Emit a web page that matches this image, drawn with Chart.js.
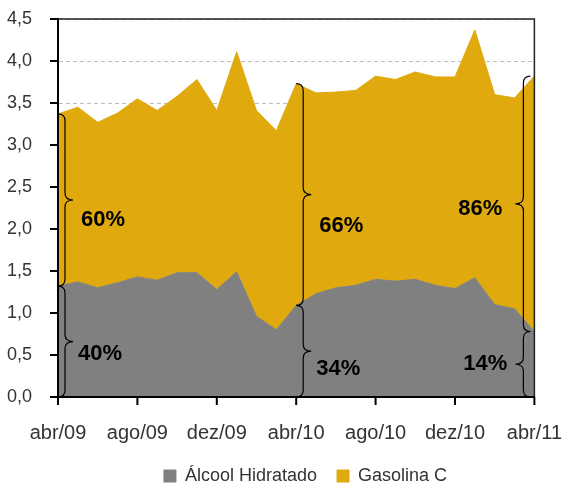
<!DOCTYPE html>
<html>
<head>
<meta charset="utf-8">
<script src="https://cdn.jsdelivr.net/npm/chart.js@4/dist/chart.umd.min.js"></script>
<style>
  html, body { margin: 0; padding: 0; background: #fff; }
  #wrap { width: 562px; height: 486px; }
</style>
</head>
<body>
<div id="wrap"><canvas id="myChart" width="562" height="486"></canvas></div>
<script>
// meses, abr/09 a abr/11
const months = ['abr/09','mai/09','jun/09','jul/09','ago/09','set/09','out/09','nov/09','dez/09','jan/10','fev/10','mar/10',
                'abr/10','mai/10','jun/10','jul/10','ago/10','set/10','out/10','nov/10','dez/10','jan/11','fev/11','mar/11','abr/11'];
const xTickLabels = ['abr/09','ago/09','dez/09','abr/10','ago/10','dez/10','abr/11'];

const alcool = [1.32,1.37,1.30,1.36,1.43,1.39,1.48,1.48,1.28,1.49,0.96,0.80,
                1.09,1.23,1.30,1.33,1.40,1.38,1.40,1.33,1.29,1.42,1.10,1.05,0.78];
const gasolina = [2.05,2.08,1.97,2.02,2.12,2.02,2.10,2.30,2.13,2.62,2.45,2.37,
                  2.64,2.39,2.33,2.32,2.42,2.40,2.47,2.48,2.52,2.95,2.50,2.51,3.04];

// chaves com participacao
const braceMonths = ['abr/09','abr/10','abr/11'];
const shareAlcool = ['40%','34%','14%'];
const shareGasolina = ['60%','66%','86%'];

const FONT = "'Liberation Sans', Arial, sans-serif";

function drawBrace(ctx, xEnd, yTop, yBot, side) {
    // side = 1 -> ponta para a direita, -1 -> para a esquerda
    let xLine = xEnd + side * 7;
    let tipX = xEnd + side * 15;
    let yMid = (yTop + yBot) / 2;
    let r = Math.min(7, (yBot - yTop) / 4);
    ctx.beginPath();
    ctx.moveTo(xEnd, yTop);
    ctx.quadraticCurveTo(xLine, yTop, xLine, yTop + r);
    ctx.lineTo(xLine, yMid - r);
    ctx.quadraticCurveTo(xLine, yMid, tipX, yMid);
    ctx.quadraticCurveTo(xLine, yMid, xLine, yMid + r);
    ctx.lineTo(xLine, yBot - r);
    ctx.quadraticCurveTo(xLine, yBot, xEnd, yBot);
    ctx.stroke();
    return { tipX: tipX, yMid: yMid };
}

const extras = {
    id: 'extras',
    afterLayout(chart) {
        // legenda um pouco a direita, como no original
        chart.legend.left += 38;
        chart.legend.right += 38;
    },
    afterDatasetsDraw(chart) {
        const ctx = chart.ctx;
        const x = chart.scales.x, y = chart.scales.y;
        const area = chart.chartArea;
        ctx.save();

        // moldura superior e direita
        ctx.strokeStyle = '#222';
        ctx.lineWidth = 1.5;
        ctx.beginPath();
        ctx.moveTo(area.left, area.top);
        ctx.lineTo(area.right, area.top);
        ctx.lineTo(area.right, area.bottom);
        ctx.stroke();

        // marcas dos eixos
        ctx.strokeStyle = '#000';
        ctx.lineWidth = 2;
        y.ticks.forEach(t => {
            let py = y.getPixelForValue(t.value);
            ctx.beginPath();
            ctx.moveTo(area.left - 8, py);
            ctx.lineTo(area.left, py);
            ctx.stroke();
        });
        xTickLabels.forEach(m => {
            let px = x.getPixelForValue(months.indexOf(m));
            ctx.beginPath();
            ctx.moveTo(px, area.bottom);
            ctx.lineTo(px, area.bottom + 8);
            ctx.stroke();
        });

        // chaves
        const dyUp = [20, 31, 5];
        const dyLow = [12, 18, 0];
        const gapUp = [8, 8, 13];
        const gapLow = [5, 5, 8];
        ctx.lineWidth = 1.2;
        ctx.fillStyle = '#000';
        ctx.font = 'bold 22px ' + FONT;
        ctx.textBaseline = 'middle';
        braceMonths.forEach((m, i) => {
            let idx = months.indexOf(m);
            let side = idx === months.length - 1 ? -1 : 1;
            let px = x.getPixelForValue(idx) + (side < 0 ? -4 : 0);
            let yA = y.getPixelForValue(alcool[idx]);
            let yT = y.getPixelForValue(alcool[idx] + gasolina[idx]);
            let y0 = y.getPixelForValue(0);
            let up = drawBrace(ctx, px, yT, yA, side);
            let low = drawBrace(ctx, px, yA, y0, side);
            ctx.textAlign = side > 0 ? 'left' : 'right';
            ctx.fillText(shareGasolina[i], up.tipX + side * gapUp[i], up.yMid + dyUp[i]);
            ctx.fillText(shareAlcool[i], low.tipX + side * gapLow[i], low.yMid + dyLow[i]);
        });
        ctx.restore();
    }
};

var ctx = document.getElementById('myChart').getContext('2d');
var chart = new Chart(ctx, {
    type: 'line',
    data: {
        labels: months,
        datasets: [{
            label: 'Álcool Hidratado',
            data: alcool,
            backgroundColor: '#808080',
            borderColor: '#808080',
            borderWidth: 1,
            fill: 'origin',
            pointRadius: 0,
            tension: 0
        }, {
            label: 'Gasolina C',
            data: gasolina,
            backgroundColor: '#E0AA0F',
            borderColor: '#E0AA0F',
            borderWidth: 1,
            fill: '-1',
            pointRadius: 0,
            tension: 0
        }]
    },
    options: {
        responsive: false,
        animation: false,
        layout: { padding: { left: 0, right: 27, top: 19, bottom: -9 } },
        plugins: {
            tooltip: { enabled: false },
            legend: {
                position: 'bottom',
                labels: {
                    boxWidth: 12,
                    boxHeight: 12,
                    padding: 20,
                    color: '#333',
                    font: { size: 18, family: FONT }
                }
            }
        },
        scales: {
            x: {
                afterFit: s => { s.height = 50; },
                grid: {
                    drawOnChartArea: false,
                    tickLength: 24,
                    tickColor: 'rgba(0,0,0,0)'
                },
                border: { color: '#000', width: 2, z: 1 },
                ticks: {
                    autoSkip: false,
                    maxRotation: 0,
                    padding: 0,
                    color: '#333',
                    font: { size: 20, family: FONT },
                    callback: (v, i) => xTickLabels.includes(months[i]) ? months[i] : ''
                }
            },
            y: {
                stacked: true,
                min: 0,
                max: 4.5,
                afterFit: s => { s.width = 58; },
                grid: { color: '#bdbdbd', lineWidth: 1, tickLength: 26, tickColor: 'rgba(0,0,0,0)' },
                border: { color: '#000', width: 2, dash: [4, 3], z: 1 },
                ticks: {
                    stepSize: 0.5,
                    padding: 0,
                    color: '#333',
                    font: { size: 18, family: FONT },
                    callback: v => v.toFixed(1).replace('.', ',')
                }
            }
        }
    },
    plugins: [extras]
});
</script>
</body>
</html>
